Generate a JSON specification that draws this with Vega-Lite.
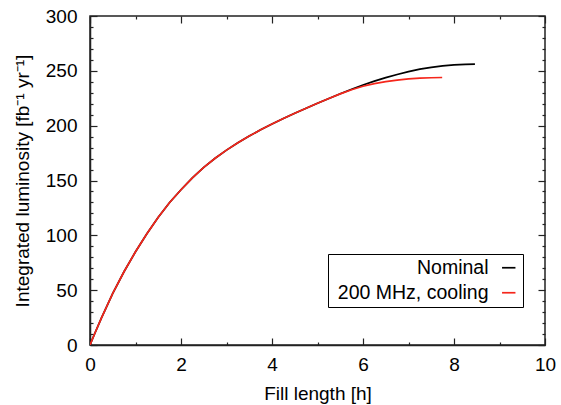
{
  "$schema": "https://vega.github.io/schema/vega-lite/v6.json",
  "width": 455,
  "height": 329,
  "autosize": "none",
  "padding": {"left": 90, "top": 16, "right": 16, "bottom": 60},
  "config": {
    "font": "Liberation Sans",
    "view": {"stroke": "#222", "strokeWidth": 1.5},
    "axis": {"grid": false, "labelFlush": false, "labelOverlap": false, "labelFont": "Liberation Sans", "titleFont": "Liberation Sans", "labelFontSize": 19, "titleFontSize": 19, "labelColor": "#000", "titleColor": "#000", "titleFontWeight": "normal", "domainColor": "#222", "domainWidth": 1.5, "tickColor": "#222", "tickWidth": 1.2}
  },
  "data": {"values": [
    {"t": 0, "L": 0, "s": "Nominal"},
    {"t": 0.1, "L": 10, "s": "Nominal"},
    {"t": 0.25, "L": 24.5, "s": "Nominal"},
    {"t": 0.5, "L": 47, "s": "Nominal"},
    {"t": 0.75, "L": 67, "s": "Nominal"},
    {"t": 1, "L": 85, "s": "Nominal"},
    {"t": 1.25, "L": 101.5, "s": "Nominal"},
    {"t": 1.5, "L": 116.5, "s": "Nominal"},
    {"t": 1.75, "L": 130, "s": "Nominal"},
    {"t": 2, "L": 141.6, "s": "Nominal"},
    {"t": 2.25, "L": 152.3, "s": "Nominal"},
    {"t": 2.5, "L": 161.9, "s": "Nominal"},
    {"t": 2.75, "L": 170.3, "s": "Nominal"},
    {"t": 3, "L": 177.7, "s": "Nominal"},
    {"t": 3.25, "L": 184.4, "s": "Nominal"},
    {"t": 3.5, "L": 190.5, "s": "Nominal"},
    {"t": 3.75, "L": 196.2, "s": "Nominal"},
    {"t": 4, "L": 201.5, "s": "Nominal"},
    {"t": 4.25, "L": 206.5, "s": "Nominal"},
    {"t": 4.5, "L": 211.3, "s": "Nominal"},
    {"t": 4.75, "L": 215.9, "s": "Nominal"},
    {"t": 5, "L": 220.4, "s": "Nominal"},
    {"t": 5.25, "L": 224.8, "s": "Nominal"},
    {"t": 5.5, "L": 229.1, "s": "Nominal"},
    {"t": 5.75, "L": 233.2, "s": "Nominal"},
    {"t": 6, "L": 237.1, "s": "Nominal"},
    {"t": 6.25, "L": 240.6, "s": "Nominal"},
    {"t": 6.5, "L": 243.8, "s": "Nominal"},
    {"t": 6.75, "L": 246.7, "s": "Nominal"},
    {"t": 7, "L": 249.3, "s": "Nominal"},
    {"t": 7.25, "L": 251.5, "s": "Nominal"},
    {"t": 7.5, "L": 253.2, "s": "Nominal"},
    {"t": 7.75, "L": 254.5, "s": "Nominal"},
    {"t": 8, "L": 255.4, "s": "Nominal"},
    {"t": 8.25, "L": 255.9, "s": "Nominal"},
    {"t": 8.46, "L": 256.1, "s": "Nominal"},
    {"t": 0, "L": 0, "s": "200 MHz, cooling"},
    {"t": 0.1, "L": 10, "s": "200 MHz, cooling"},
    {"t": 0.25, "L": 24.5, "s": "200 MHz, cooling"},
    {"t": 0.5, "L": 47, "s": "200 MHz, cooling"},
    {"t": 0.75, "L": 67, "s": "200 MHz, cooling"},
    {"t": 1, "L": 85, "s": "200 MHz, cooling"},
    {"t": 1.25, "L": 101.5, "s": "200 MHz, cooling"},
    {"t": 1.5, "L": 116.5, "s": "200 MHz, cooling"},
    {"t": 1.75, "L": 130, "s": "200 MHz, cooling"},
    {"t": 2, "L": 141.6, "s": "200 MHz, cooling"},
    {"t": 2.25, "L": 152.3, "s": "200 MHz, cooling"},
    {"t": 2.5, "L": 161.9, "s": "200 MHz, cooling"},
    {"t": 2.75, "L": 170.3, "s": "200 MHz, cooling"},
    {"t": 3, "L": 177.7, "s": "200 MHz, cooling"},
    {"t": 3.25, "L": 184.4, "s": "200 MHz, cooling"},
    {"t": 3.5, "L": 190.5, "s": "200 MHz, cooling"},
    {"t": 3.75, "L": 196.2, "s": "200 MHz, cooling"},
    {"t": 4, "L": 201.5, "s": "200 MHz, cooling"},
    {"t": 4.25, "L": 206.5, "s": "200 MHz, cooling"},
    {"t": 4.5, "L": 211.3, "s": "200 MHz, cooling"},
    {"t": 4.75, "L": 215.9, "s": "200 MHz, cooling"},
    {"t": 5, "L": 220.4, "s": "200 MHz, cooling"},
    {"t": 5.25, "L": 224.8, "s": "200 MHz, cooling"},
    {"t": 5.5, "L": 229, "s": "200 MHz, cooling"},
    {"t": 5.75, "L": 232.8, "s": "200 MHz, cooling"},
    {"t": 6, "L": 235.9, "s": "200 MHz, cooling"},
    {"t": 6.25, "L": 238.3, "s": "200 MHz, cooling"},
    {"t": 6.5, "L": 240.1, "s": "200 MHz, cooling"},
    {"t": 6.75, "L": 241.5, "s": "200 MHz, cooling"},
    {"t": 7, "L": 242.6, "s": "200 MHz, cooling"},
    {"t": 7.25, "L": 243.3, "s": "200 MHz, cooling"},
    {"t": 7.5, "L": 243.7, "s": "200 MHz, cooling"},
    {"t": 7.74, "L": 243.9, "s": "200 MHz, cooling"}
  ]},
  "resolve": {"axis": {"x": "independent", "y": "independent"}},
  "layer": [
    {
      "mark": {"type": "line", "strokeWidth": 1.7, "clip": true},
      "encoding": {
        "x": {"field": "t", "type": "quantitative", "scale": {"domain": [0, 10], "nice": false},
          "axis": {"orient": "bottom", "values": [0, 2, 4, 6, 8, 10], "ticks": false, "labelPadding": 10, "title": "Fill length [h]", "titlePadding": 10}},
        "y": {"field": "L", "type": "quantitative", "scale": {"domain": [0, 300], "nice": false},
          "axis": {"orient": "left", "values": [0, 50, 100, 150, 200, 250, 300], "ticks": false, "labelPadding": 13, "title": "Integrated luminosity [fb⁻¹ yr⁻¹]", "titlePadding": 13}},
        "color": {"field": "s", "type": "nominal", "sort": ["Nominal", "200 MHz, cooling"],
          "scale": {"domain": ["Nominal", "200 MHz, cooling"], "range": ["#000000", "#f5261b"]},
          "legend": {"title": null, "orient": "none", "legendX": 238, "legendY": 238, "symbolType": "stroke", "symbolStrokeWidth": 1.7, "symbolSize": 180, "labelFontSize": 19.5, "labelFont": "Liberation Sans", "labelColor": "#000", "labelAlign": "right", "labelOffset": -30, "symbolOffset": 167, "labelLimit": 300, "strokeColor": "#000", "padding": 4, "rowPadding": 4}}
      }
    },
    {
      "mark": {"type": "point", "opacity": 0},
      "encoding": {
        "x": {"field": "t", "type": "quantitative", "axis": {"orient": "bottom", "values": [0, 2, 4, 6, 8, 10], "labels": false, "domain": false, "tickSize": -7, "title": null}},
        "y": {"field": "L", "type": "quantitative", "axis": {"orient": "left", "values": [0, 50, 100, 150, 200, 250, 300], "labels": false, "domain": false, "tickSize": -7, "title": null}}
      }
    },
    {
      "mark": {"type": "point", "opacity": 0},
      "encoding": {
        "x": {"field": "t", "type": "quantitative", "axis": {"orient": "bottom", "values": [1, 3, 5, 7, 9], "labels": false, "domain": false, "tickSize": -3, "title": null}},
        "y": {"field": "L", "type": "quantitative", "axis": {"orient": "left", "values": [10, 20, 30, 40, 60, 70, 80, 90, 110, 120, 130, 140, 160, 170, 180, 190, 210, 220, 230, 240, 260, 270, 280, 290], "labels": false, "domain": false, "tickSize": -3, "title": null}}
      }
    },
    {
      "mark": {"type": "point", "opacity": 0},
      "encoding": {
        "x": {"field": "t", "type": "quantitative", "axis": {"orient": "top", "values": [0, 2, 4, 6, 8, 10], "labels": false, "domain": false, "tickSize": -7, "title": null}},
        "y": {"field": "L", "type": "quantitative", "axis": {"orient": "right", "values": [0, 50, 100, 150, 200, 250, 300], "labels": false, "domain": false, "tickSize": -7, "title": null}}
      }
    },
    {
      "mark": {"type": "point", "opacity": 0},
      "encoding": {
        "x": {"field": "t", "type": "quantitative", "axis": {"orient": "top", "values": [1, 3, 5, 7, 9], "labels": false, "domain": false, "tickSize": -3, "title": null}},
        "y": {"field": "L", "type": "quantitative", "axis": {"orient": "right", "values": [10, 20, 30, 40, 60, 70, 80, 90, 110, 120, 130, 140, 160, 170, 180, 190, 210, 220, 230, 240, 260, 270, 280, 290], "labels": false, "domain": false, "tickSize": -3, "title": null}}
      }
    }
  ]
}
